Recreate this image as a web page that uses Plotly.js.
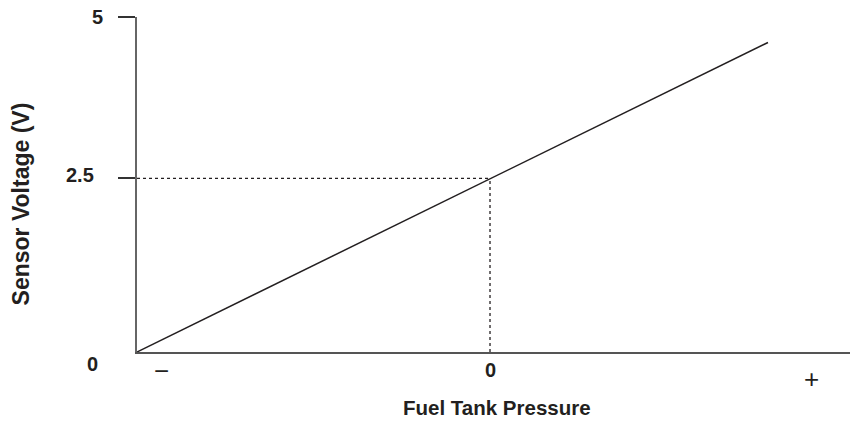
<!DOCTYPE html>
<html>
<head>
<meta charset="utf-8">
<script src="https://cdn.plot.ly/plotly-3.0.1.min.js"></script>
<style>html,body{margin:0;padding:0;background:#fff;}#chart{width:850px;height:423px;}</style>
</head>
<body>
<div id="chart"></div>
<script>
// Data
const pressure = [-1, 0, 0.7875];          // relative fuel tank pressure (− … 0 … +)
const voltage = [0, 2.59, 4.62];           // sensor voltage (V)
const refPressure = 0;                      // reference point: zero pressure
const refVoltage = 2.59;                    // drawn level of the 2.5 V mark
const yTickVals = [0, 2.59, 5];
const yTickText = ['0', '2.5', '5'];
const xTickVals = [-0.93, 0, 0.91];
const xTickText = ['\u2212', '0', '+'];
const xTitle = 'Fuel Tank Pressure';
const yTitle = 'Sensor Voltage (V)';

const dark = '#231f20';
const font = 'Liberation Sans, Arial, Helvetica, sans-serif';

const traces = [
  {x: pressure, y: voltage, mode: 'lines', line: {color: dark, width: 1.5}, hoverinfo: 'skip'},
  {x: [pressure[0], refPressure], y: [refVoltage, refVoltage], mode: 'lines',
   line: {color: dark, width: 1.3, dash: 'dot'}, hoverinfo: 'skip'},
  {x: [refPressure, refPressure], y: [0, refVoltage], mode: 'lines',
   line: {color: dark, width: 1.3, dash: 'dot'}, hoverinfo: 'skip'}
];

const annotations = [];
// y tick labels (custom offsets as in the reference)
const yLabelPos = [{xs: -45, ys: -12}, {xs: -57, ys: 3}, {xs: -40, ys: 0}];
yTickVals.forEach((v, i) => {
  annotations.push({x: -1, y: v, xref: 'x', yref: 'y', text: '<b>' + yTickText[i] + '</b>',
    showarrow: false, xanchor: 'center', yanchor: 'middle',
    xshift: yLabelPos[i].xs, yshift: yLabelPos[i].ys,
    font: {family: font, size: 20, color: dark}});
});
// x tick labels
const xLabelStyle = [{size: 26, bold: false, ys: -19}, {size: 20, bold: true, ys: -18}, {size: 26, bold: false, ys: -27}];
xTickVals.forEach((v, i) => {
  const s = xLabelStyle[i];
  annotations.push({x: v, y: 0, xref: 'x', yref: 'y',
    text: s.bold ? '<b>' + xTickText[i] + '</b>' : xTickText[i],
    showarrow: false, xanchor: 'center', yanchor: 'middle', yshift: s.ys,
    font: {family: font, size: s.size, color: dark}});
});
// axis titles
annotations.push({x: 0.505, y: -0.166, xref: 'paper', yref: 'paper', text: '<b>' + xTitle + '</b>',
  showarrow: false, xanchor: 'center', yanchor: 'middle', font: {family: font, size: 20.5, color: dark}});
annotations.push({x: -0.1634, y: 0.442, xref: 'paper', yref: 'paper', text: '<b>' + yTitle + '</b>',
  textangle: -90, showarrow: false, xanchor: 'center', yanchor: 'middle',
  font: {family: font, size: 23, color: dark}});

const layout = {
  width: 850, height: 423,
  margin: {l: 137, r: 0, t: 17, b: 71},
  paper_bgcolor: '#fff', plot_bgcolor: '#fff',
  showlegend: false,
  font: {family: font, color: dark},
  xaxis: {
    range: [-1, 1.0198], showgrid: false, zeroline: false,
    showline: true, linecolor: '#555', linewidth: 2,
    showticklabels: false, ticks: '', fixedrange: true
  },
  yaxis: {
    range: [0, 5], showgrid: false, zeroline: false,
    showline: true, linecolor: '#666', linewidth: 2,
    tickmode: 'array', tickvals: [2.59, 5], ticks: 'outside', ticklen: 17, tickwidth: 2, tickcolor: '#333',
    showticklabels: false, fixedrange: true
  },
  annotations: annotations
};

Plotly.newPlot('chart', traces, layout, {displayModeBar: false, staticPlot: true});
</script>
</body>
</html>
